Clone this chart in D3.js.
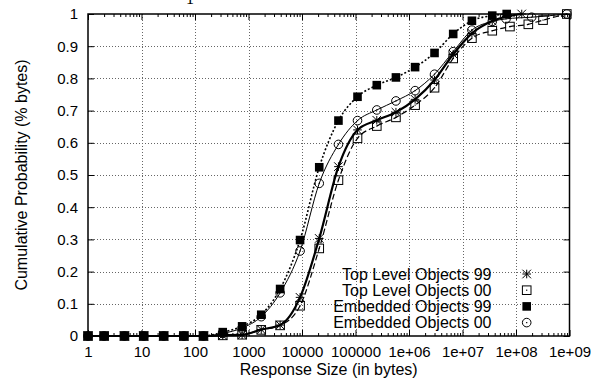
<!DOCTYPE html>
<html>
<head>
<meta charset="utf-8">
<script src="https://cdn.jsdelivr.net/npm/d3@7"></script>
<style>
  html, body { margin: 0; padding: 0; background: #fff; }
  svg { display: block; font-family: "Liberation Sans", Arial, sans-serif; }
</style>
</head>
<body>
<svg id="chart" width="601" height="385"></svg>
<script>
// Axis ticks
const xTickValues = [1, 10, 100, 1e3, 1e4, 1e5, 1e6, 1e7, 1e8, 1e9];
const xTickLabels = ["1", "10", "100", "1000", "10000", "100000", "1e+06", "1e+07", "1e+08", "1e+09"];
const yTickValues = [0, 0.1, 0.2, 0.3, 0.4, 0.5, 0.6, 0.7, 0.8, 0.9, 1];
const yTickLabels = ["0", "0.1", "0.2", "0.3", "0.4", "0.5", "0.6", "0.7", "0.8", "0.9", "1"];

// Shared response-size bins (bytes)
const sizeBins = [1, 2, 4.8, 11, 26, 62, 144, 330, 760, 1730, 3900, 9200, 21000, 48000,
                  109000, 250000, 570000, 1.3e6, 3e6, 6.7e6, 1.5e7, 3.6e7];

// Top Level Objects 99
const topLevel99Sizes = sizeBins.concat([1.28e8]);
const topLevel99Values = [0, 0, 0, 0, 0, 0, 0, 0.002, 0.004, 0.02, 0.034, 0.12, 0.303, 0.526,
                          0.64, 0.67, 0.695, 0.735, 0.795, 0.875, 0.94, 0.978, 1.0];

// Top Level Objects 00
const topLevel00Sizes = sizeBins.concat([7.7e7, 1.7e8, 3.2e8, 8.9e8]);
const topLevel00Values = [0, 0, 0, 0, 0, 0, 0, 0.002, 0.004, 0.019, 0.033, 0.094, 0.272, 0.484,
                          0.614, 0.652, 0.679, 0.717, 0.771, 0.862, 0.925, 0.948,
                          0.961, 0.968, 0.981, 1.0];

// Embedded Objects 99
const embedded99Sizes = sizeBins.concat([6.7e7]);
const embedded99Values = [0, 0, 0, 0, 0, 0, 0, 0.012, 0.03, 0.066, 0.146, 0.298, 0.524, 0.669,
                          0.743, 0.779, 0.803, 0.835, 0.879, 0.938, 0.979, 0.995, 1.0];

// Embedded Objects 00
const embedded00Sizes = sizeBins.concat([6.5e7, 1.96e8, 8.9e8]);
const embedded00Values = [0, 0, 0, 0, 0, 0, 0, 0.008, 0.025, 0.06, 0.134, 0.264, 0.474, 0.595,
                          0.669, 0.702, 0.730, 0.762, 0.813, 0.883, 0.95, 0.977,
                          0.985, 0.99, 1.0];

const seriesNames = ["Top Level Objects 99", "Top Level Objects 00", "Embedded Objects 99", "Embedded Objects 00"];

const series = [
  { name: seriesNames[0], sizes: topLevel99Sizes, values: topLevel99Values, marker: "asterisk",
    width: 2.2, dash: null },
  { name: seriesNames[1], sizes: topLevel00Sizes, values: topLevel00Values, marker: "openSquare",
    width: 1.2, dash: "6,3" },
  { name: seriesNames[2], sizes: embedded99Sizes, values: embedded99Values, marker: "filledSquare",
    width: 1.6, dash: "2,2" },
  { name: seriesNames[3], sizes: embedded00Sizes, values: embedded00Values, marker: "openCircle",
    width: 1.0, dash: null }
];

const svg = d3.select("#chart");
const plotLeft = 88, plotRight = 569.5, plotTop = 14, plotBottom = 336;
const tickFontSize = 15, labelFontSize = 16;

const x = d3.scaleLog().domain([1, 1e9]).range([plotLeft, plotRight]);
const y = d3.scaleLinear().domain([0, 1]).range([plotBottom, plotTop]);

// Grid
const grid = svg.append("g").attr("stroke", "#666").attr("stroke-width", 1)
  .attr("stroke-dasharray", "1,2").attr("fill", "none");
grid.selectAll("line.gx").data(xTickValues.slice(1, -1)).join("line")
  .attr("x1", d => Math.round(x(d)) + 0.5).attr("x2", d => Math.round(x(d)) + 0.5)
  .attr("y1", plotTop).attr("y2", plotBottom);
grid.selectAll("line.gy").data(yTickValues.slice(1, -1)).join("line")
  .attr("x1", plotLeft).attr("x2", plotRight)
  .attr("y1", d => Math.round(y(d)) + 0.5).attr("y2", d => Math.round(y(d)) + 0.5);

// Minor log ticks
const minorTicks = [];
for (let e = 0; e < 9; e++) for (let m = 2; m <= 9; m++) minorTicks.push(m * Math.pow(10, e));

function styleAxis(g) {
  g.select(".domain").remove();
  g.selectAll(".tick line").attr("stroke", "#000").attr("stroke-width", 1);
  g.selectAll(".tick text").attr("fill", "#000").attr("font-size", tickFontSize)
    .attr("font-family", "\"Liberation Sans\", Arial, sans-serif");
}

svg.append("g").attr("transform", `translate(0,${plotBottom})`)
  .call(d3.axisBottom(x).tickValues(xTickValues).tickSize(-6).tickPadding(10)
    .tickFormat((d, i) => xTickLabels[i]))
  .call(styleAxis);
svg.append("g").attr("transform", `translate(0,${plotBottom})`)
  .call(d3.axisBottom(x).tickValues(minorTicks).tickSize(-3).tickFormat(""))
  .call(styleAxis);
svg.append("g").attr("transform", `translate(0,${plotTop})`)
  .call(d3.axisTop(x).tickValues(xTickValues).tickSize(-6).tickFormat(""))
  .call(styleAxis);
svg.append("g").attr("transform", `translate(0,${plotTop})`)
  .call(d3.axisTop(x).tickValues(minorTicks).tickSize(-3).tickFormat(""))
  .call(styleAxis);
svg.append("g").attr("transform", `translate(${plotLeft},0)`)
  .call(d3.axisLeft(y).tickValues(yTickValues).tickSize(-6).tickPadding(10)
    .tickFormat((d, i) => yTickLabels[i]))
  .call(styleAxis);
svg.append("g").attr("transform", `translate(${plotRight},0)`)
  .call(d3.axisRight(y).tickValues(yTickValues).tickSize(-6).tickFormat(""))
  .call(styleAxis);

// Plot border
svg.append("rect").attr("x", plotLeft).attr("y", plotTop)
  .attr("width", plotRight - plotLeft).attr("height", plotBottom - plotTop)
  .attr("fill", "none").attr("stroke", "#000").attr("stroke-width", 1.5);

// Axis titles
svg.append("text").attr("x", (plotLeft + plotRight) / 2).attr("y", 375)
  .attr("text-anchor", "middle").attr("font-size", labelFontSize)
  .text("Response Size (in bytes)");
svg.append("text").attr("transform", `translate(27,${(plotTop + plotBottom) / 2}) rotate(-90)`)
  .attr("text-anchor", "middle").attr("font-size", labelFontSize)
  .text("Cumulative Probability (% bytes)");

// Heading glyph, mostly above the top edge
svg.append("text").attr("x", 190).attr("y", 4).attr("text-anchor", "middle")
  .attr("font-family", "\"Liberation Serif\", serif").attr("font-size", 16).text("1");

// Markers
function drawMarker(g, type, cx, cy) {
  const s = 4.3;
  if (type === "asterisk") {
    g.append("path")
      .attr("d", `M${cx - s},${cy}H${cx + s}M${cx},${cy - s}V${cy + s}` +
                 `M${cx - s},${cy - s}L${cx + s},${cy + s}M${cx - s},${cy + s}L${cx + s},${cy - s}`)
      .attr("stroke", "#000").attr("stroke-width", 1).attr("fill", "none");
  } else if (type === "openSquare") {
    g.append("rect").attr("x", cx - s).attr("y", cy - s).attr("width", 2 * s).attr("height", 2 * s)
      .attr("fill", "none").attr("stroke", "#000").attr("stroke-width", 1);
    g.append("rect").attr("x", cx - 0.6).attr("y", cy - 0.6).attr("width", 1.2).attr("height", 1.2)
      .attr("fill", "#000");
  } else if (type === "filledSquare") {
    g.append("rect").attr("x", cx - s).attr("y", cy - s).attr("width", 2 * s).attr("height", 2 * s)
      .attr("fill", "#000");
  } else if (type === "openCircle") {
    g.append("circle").attr("cx", cx).attr("cy", cy).attr("r", s)
      .attr("fill", "none").attr("stroke", "#000").attr("stroke-width", 1);
    g.append("rect").attr("x", cx - 0.6).attr("y", cy - 0.6).attr("width", 1.2).attr("height", 1.2)
      .attr("fill", "#000");
  }
}

const line = d3.line().x(d => x(d[0])).y(d => y(d[1])).curve(d3.curveMonotoneX);

series.forEach(s => {
  const pts = s.sizes.map((v, i) => [v, s.values[i]]);
  const g = svg.append("g");
  g.append("path").datum(pts).attr("d", line)
    .attr("fill", "none").attr("stroke", "#000").attr("stroke-width", s.width)
    .attr("stroke-dasharray", s.dash);
  pts.forEach(p => drawMarker(g, s.marker, x(p[0]), y(p[1])));
});

// Legend
const legendTextX = 491.5, legendMarkX = 526.7, legendTop = 274, legendStep = 16.2;
series.forEach((s, i) => {
  const cy = legendTop + i * legendStep;
  svg.append("text").attr("x", legendTextX).attr("y", cy).attr("dy", "0.35em")
    .attr("text-anchor", "end").attr("font-size", labelFontSize).text(s.name);
  drawMarker(svg.append("g"), s.marker, legendMarkX, cy);
});
</script>
</body>
</html>
